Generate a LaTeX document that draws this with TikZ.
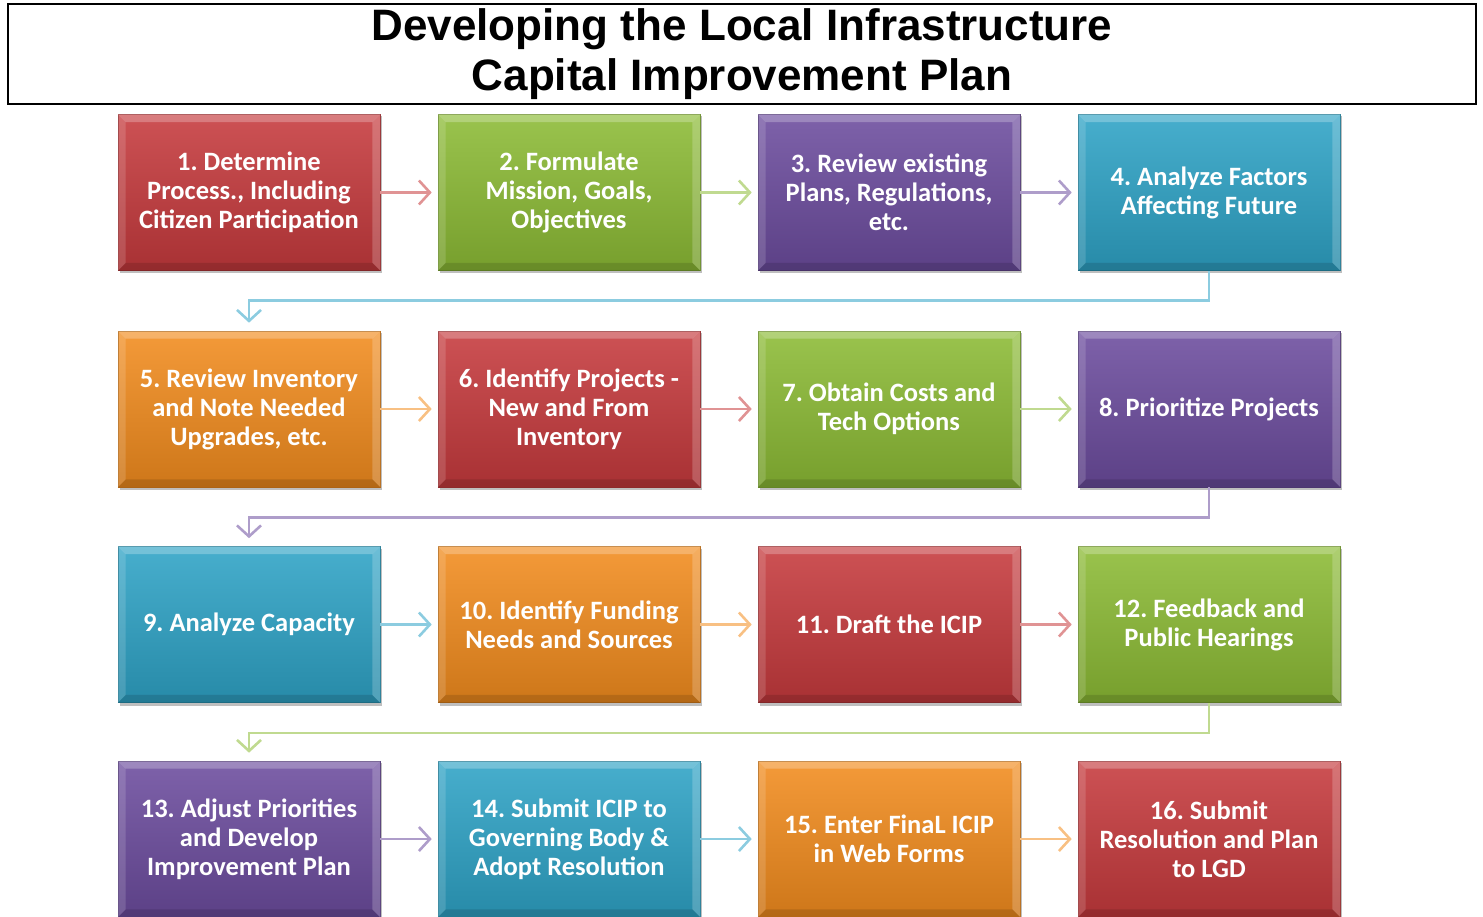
\documentclass[tikz,border=0pt]{standalone}
\usepackage{fontspec}
\setmainfont{Carlito}
\newfontfamily\titlefont{Liberation Sans}
\usetikzlibrary{arrows.meta}
\frenchspacing

\definecolor{cRed}{HTML}{C63A3D}
\definecolor{cGreen}{HTML}{8CBB35}
\definecolor{cPurple}{HTML}{6C4C9E}
\definecolor{cTeal}{HTML}{2EA3C6}
\definecolor{cOrange}{HTML}{F28C1E}

\tikzset{
    stepbox/.style={rectangle, draw=#1!75!black, line width=0.6pt,
        top color=#1!88!white, bottom color=#1!85!black,
        minimum width=262pt, minimum height=156pt, inner sep=0pt,
        text=white, align=center, font=\fontsize{26.5}{29}\selectfont\bfseries},
    bevel/.style={fill=#1, opacity=0.25},
    flow/.style={draw=#1!55!white, line width=2.6pt,
        -{Straight Barb[length=11pt, width=24pt]}},
    titlebox/.style={draw=black, line width=2.2pt, minimum width=1468pt, minimum height=100pt,
        align=center, font=\titlefont\fontsize{44}{50}\selectfont\bfseries}
}

\begin{document}
\begin{tikzpicture}[x=1pt, y=-1pt]
    \useasboundingbox (0,0) rectangle (1483,917);

    \node (title) [titlebox] at (742,54) {Developing the Local Infrastructure\\Capital Improvement Plan};

    %% drop shadows first
    \foreach \px/\py in {249/192.5, 569/192.5, 889/192.5, 1209/192.5,
        249/409, 569/409, 889/409, 1209/409,
        249/624.5, 569/624.5, 889/624.5, 1209/624.5,
        249/839, 569/839, 889/839, 1209/839}
    {
        \fill[black, opacity=0.25] (\px-129, \py-76) rectangle (\px+133, \py+81);
    }

    %% steps, row by row
    \node (b1) [stepbox=cRed] at (249,192.5) {1. Determine\\Process., Including\\Citizen Participation};
    \node (b2) [stepbox=cGreen] at (569,192.5) {2. Formulate\\Mission, Goals,\\Objectives};
    \node (b3) [stepbox=cPurple] at (889,192.5) {3. Review existing\\Plans, Regulations,\\etc.};
    \node (b4) [stepbox=cTeal] at (1209,192.5) {4. Analyze Factors\\Affecting Future};

    \node (b5) [stepbox=cOrange] at (249,409) {5. Review Inventory\\and Note Needed\\Upgrades, etc.};
    \node (b6) [stepbox=cRed] at (569,409) {6. Identify Projects -\\New and From\\Inventory};
    \node (b7) [stepbox=cGreen] at (889,409) {7. Obtain Costs and\\Tech Options};
    \node (b8) [stepbox=cPurple] at (1209,409) {8. Prioritize Projects};

    \node (b9) [stepbox=cTeal] at (249,624.5) {9. Analyze Capacity};
    \node (b10) [stepbox=cOrange] at (569,624.5) {10. Identify Funding\\Needs and Sources};
    \node (b11) [stepbox=cRed] at (889,624.5) {11. Draft the ICIP};
    \node (b12) [stepbox=cGreen] at (1209,624.5) {12. Feedback and\\Public Hearings};

    \node (b13) [stepbox=cPurple] at (249,839) {13. Adjust Priorities\\and Develop\\Improvement Plan};
    \node (b14) [stepbox=cTeal] at (569,839) {14. Submit ICIP to\\Governing Body \&\\Adopt Resolution};
    \node (b15) [stepbox=cOrange] at (889,839) {15. Enter FinaL ICIP\\in Web Forms};
    \node (b16) [stepbox=cRed] at (1209,839) {16. Submit\\Resolution and Plan\\to LGD};

    %% bevelled edges
    \foreach \b in {1,2,3,4,5,6,7,8,9,10,11,12,13,14,15,16}
    {
        \fill[bevel=white] (b\b.north west) -- (b\b.north east) -- ([shift={(-8pt,-8pt)}]b\b.north east) -- ([shift={(8pt,-8pt)}]b\b.north west) -- cycle;
        \fill[bevel=white, opacity=0.15] (b\b.north west) -- (b\b.south west) -- ([shift={(8pt,8pt)}]b\b.south west) -- ([shift={(8pt,-8pt)}]b\b.north west) -- cycle;
        \fill[bevel=white, opacity=0.2] (b\b.north east) -- (b\b.south east) -- ([shift={(-8pt,8pt)}]b\b.south east) -- ([shift={(-8pt,-8pt)}]b\b.north east) -- cycle;
        \fill[bevel=black, opacity=0.12] (b\b.south west) -- (b\b.south east) -- ([shift={(-8pt,8pt)}]b\b.south east) -- ([shift={(8pt,8pt)}]b\b.south west) -- cycle;
    }

    %% arrows inside a row
    \foreach \a/\b/\c in
    {1/2/cRed, 2/3/cGreen, 3/4/cPurple,
        5/6/cOrange, 6/7/cRed, 7/8/cGreen,
        9/10/cTeal, 10/11/cOrange, 11/12/cRed,
        13/14/cPurple, 14/15/cTeal, 15/16/cOrange}
    {
        \draw [flow=\c] (b\a.east) -- ([xshift=-6pt]b\b.west);
    }

    %% back to the first column
    \foreach \a/\b/\c in {4/5/cTeal, 8/9/cPurple, 12/13/cGreen}
    {
        \draw [flow=\c] (b\a.south) -- ++(0,30) -| ([yshift=8pt]b\b.north);
    }
\end{tikzpicture}
\end{document}
